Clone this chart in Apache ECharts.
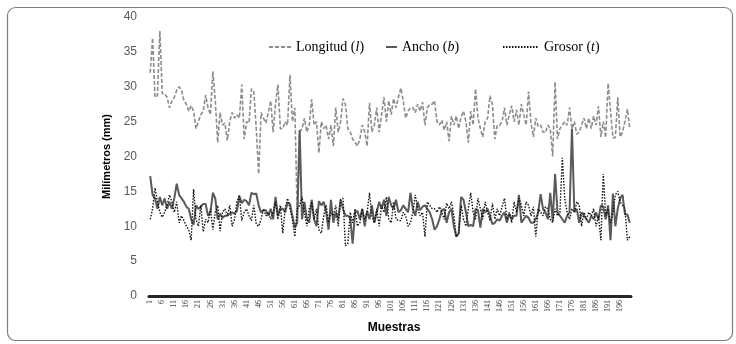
<!DOCTYPE html>
<html>
<head>
<meta charset="utf-8">
<script src="https://cdn.jsdelivr.net/npm/echarts@6/dist/echarts.min.js"></script>
<style>html,body{margin:0;padding:0;background:#fff;}#c{width:736px;height:344px;}</style>
</head>
<body>
<div id="c"></div>
<script>
const categories = Array.from({length: 200}, (_, k) => String(k + 1));
const yTicks = [0, 5, 10, 15, 20, 25, 30, 35, 40];
const longitud = [
32, 37, 28.5, 28.7, 38, 29, 29, 28.5, 27, 28,
28.5, 29.5, 30, 29.5, 28, 27.5, 26.5, 27.3, 26.5, 24,
25, 26, 26.5, 28.8, 27, 26, 32.2, 28, 22, 26.3,
24.5, 24.8, 22.3, 25, 26.3, 25.5, 26, 25.5, 30.3, 22.5,
25, 24.8, 29.7, 29.3, 24, 17.5, 26.3, 25.5, 24.8, 26.3,
28, 23.5, 27.5, 30.3, 24, 24, 25, 24.5, 31.7, 25,
27, 12, 23.5, 24, 25.5, 23.5, 24.5, 28.2, 24.5, 25,
20.5, 25, 24, 24.5, 22.5, 24.5, 21.5, 27, 23.5, 25,
28.3, 27.5, 24, 23.5, 22.5, 22, 21.5, 22.5, 24.5, 23.5,
21.5, 27.7, 23.5, 24.5, 27, 23.5, 26, 28.5, 25, 28,
26, 28.3, 27, 28.5, 29.8, 28, 25.5, 26.5, 27, 27,
26.3, 27.5, 26.5, 27.8, 24.5, 27, 27.5, 27.5, 28, 25,
24.5, 25.2, 23.8, 25, 22.2, 25.8, 24.5, 25.8, 24, 25.7,
26.5, 25, 22, 26.5, 24.5, 29.7, 25.5, 24, 22.8, 25,
25.5, 28.7, 27.5, 22.5, 24.5, 24.5, 25, 27, 24.5, 26,
27.3, 25, 26.7, 24.5, 27.5, 26, 24.5, 29.3, 24.8, 22.8,
25.5, 24.3, 24.5, 23.5, 23.4, 24.5, 24, 20, 30.7, 22.5,
24, 24.5, 25, 24.5, 27, 24, 25, 23.2, 23.5, 24.5,
25.5, 24, 25.5, 24, 25.8, 24.5, 27.2, 22.8, 25, 22.7,
30.5, 26.5, 22.7, 22.7, 28.5, 22.8, 23.5, 25, 26.8, 24
];
const ancho = [
17.2, 14.5, 14, 12.5, 14.2, 13, 14, 12.5, 13.5, 12.5,
14, 16.1, 14.5, 14, 13.5, 12.8, 12.5, 11, 10.2, 13,
12.5, 12.8, 13.2, 13.2, 11.5, 12, 14.8, 14, 11, 11.8,
11.2, 11.5, 11.5, 11.8, 12, 11.8, 12.2, 14.3, 13.3, 13.8,
13.6, 13, 14.8, 14.6, 14.7, 13, 12, 12.3, 12.3, 11.5,
12.5, 11, 14.2, 11.5, 12.5, 12.5, 12, 13.4, 13.2, 11.5,
9.8, 10.5, 23.8, 11, 13.5, 11, 10.5, 13.8, 11, 10,
13.6, 13, 13.5, 12, 9.5, 13.8, 10.5, 12, 11, 13.8,
12.5, 11.5, 11.5, 11.2, 7.5, 12, 12.2, 11, 12.5, 10,
12.2, 11, 13, 10.5, 12, 13.5, 12.5, 13.8, 11.5, 14.2,
13, 12.5, 13.8, 12, 12.3, 13, 12.5, 12, 14.8, 12.5,
11.5, 13.5, 12.3, 12.8, 13, 12.5, 12, 11, 9.5, 10,
11, 12.3, 12.5, 10.5, 12, 12.5, 10, 8.5, 9, 14.2,
13.8, 12, 10, 10.2, 10, 12.5, 12.3, 9.8, 12.5, 12,
12.5, 11.5, 10.3, 10.5, 11, 10.8, 11.5, 12, 10.5, 11.8,
11, 11.5, 11.5, 14.5, 10.5, 11, 11.5, 11.2, 10.5, 10.5,
11, 12, 14.6, 12.5, 12, 11, 14.8, 10.8, 17.5, 12,
11.5, 11, 10.5, 11.5, 12, 24, 12, 12.5, 10.5, 12,
11.5, 11, 10.5, 11.5, 11, 12, 11, 13, 12.8, 11,
13, 8, 14.7, 10, 12.5, 14, 14.5, 11.7, 11.7, 10.5
];
const grosor = [
11, 12.5, 15.5, 13.5, 12, 11.3, 12, 13, 14.5, 13.5,
12, 13.5, 10.5, 11.5, 10.8, 10, 9.5, 8, 15.3, 11,
10, 13, 9.2, 11, 10.5, 12.5, 9.5, 12, 13, 9.3,
12, 12.5, 11.5, 13, 10, 11, 13.5, 14.5, 10.8, 12,
12.5, 11.5, 10.8, 13, 10.3, 10, 11, 12.5, 11.5, 12,
11, 12, 13.5, 11, 13, 9, 12.5, 14, 12.5, 11,
8.5, 12.5, 13, 14.2, 12, 10, 12.5, 13.5, 11, 12.5,
9.5, 9, 11.5, 13, 10.5, 12, 11.5, 13, 10, 13.8,
14, 7.2, 7.5, 12, 10.5, 12.5, 10, 10.5, 12.5, 11,
12, 14.8, 11.5, 10.5, 12.5, 10, 13, 12, 14.2, 11,
10.5, 13.5, 11, 10.8, 10.8, 12, 11.5, 10, 10.5, 12,
14.5, 12.5, 11.5, 12, 8.5, 13.5, 13, 12.5, 12.5, 12,
12.8, 12, 11, 13.3, 12.5, 13.5, 11.5, 8.5, 9, 13,
11, 10, 12.5, 14.8, 12, 11, 14, 12.5, 11, 13.5,
12, 10.8, 13.3, 11, 12.5, 11.5, 12.8, 14, 11, 12,
10.5, 13.5, 12, 14, 13, 11.5, 13.5, 13, 11.5, 12.8,
8.5, 12.5, 12, 11.5, 12.8, 12.5, 11, 10.5, 12.5, 11.5,
12, 19.8, 14, 12, 11, 12.5, 12, 13.5, 13, 10,
12, 11, 12, 11.5, 12.5, 10, 11.5, 8, 17.5, 11.5,
12.5, 10.5, 12, 14.5, 15, 13.5, 13, 12.5, 8, 8.5
];

const serif = '"Liberation Serif", "DejaVu Serif", serif';
const sans = '"Liberation Sans", "Noto Sans", sans-serif';
const legendText = {
  color: '#000', fontFamily: serif, fontSize: 14,
  rich: { i: { fontStyle: 'italic', fontFamily: serif, fontSize: 14, color: '#000' } }
};
const legendBase = { top: 35, itemHeight: 12, textStyle: legendText,
  itemStyle: { opacity: 0 }, lineStyle: { inactiveWidth: 0 } };
const chart = echarts.init(document.getElementById('c'), null, {renderer: 'canvas'});
chart.setOption({
  animation: false,
  backgroundColor: '#fff',
  graphic: [{
    type: 'rect', left: 5, top: 5, silent: true,
    shape: { width: 725, height: 333, r: 8 },
    style: { fill: 'none', stroke: '#7f7f7f', lineWidth: 1.2 }
  }],
  legend: [
    Object.assign({ data: ['Longitud'], left: 263, itemWidth: 22,
      formatter: () => 'Longitud ({i|l})' }, legendBase),
    Object.assign({ data: ['Ancho'], left: 380, itemWidth: 11,
      formatter: () => 'Ancho ({i|b})' }, legendBase),
    Object.assign({ data: ['Grosor'], left: 497, itemWidth: 36,
      formatter: () => 'Grosor ({i|t})' }, legendBase)
  ],
  grid: { left: 149, right: 105, top: 17, bottom: 48, containLabel: false },
  xAxis: {
    type: 'category', data: categories, boundaryGap: true,
    name: 'Muestras', nameLocation: 'middle', nameGap: 26,
    nameTextStyle: { fontFamily: sans, fontWeight: 'bold', fontSize: 12, color: '#000', padding: [0, 0, 0, 8] },
    axisLine: { lineStyle: { color: '#262626', width: 3 } },
    axisTick: { show: false },
    axisLabel: { interval: 4, rotate: 90, fontSize: 8, fontFamily: serif, color: '#404040', margin: 4 }
  },
  yAxis: {
    type: 'value', min: 0, max: 40, interval: 5,
    name: 'Milímetros (mm)', nameLocation: 'middle', nameGap: 25,
    nameTextStyle: { fontFamily: sans, fontWeight: 'bold', fontSize: 11, color: '#000' },
    axisLine: { show: false }, axisTick: { show: false }, splitLine: { show: false },
    axisLabel: { fontFamily: sans, fontSize: 12, color: '#595959', margin: 12,
      formatter: v => yTicks.includes(v) ? String(v) : '' }
  },
  series: [
    { name: 'Longitud', type: 'line', data: longitud, symbol: 'none', showSymbol: false,
      lineStyle: { color: '#8c8c8c', width: 1.6, type: [4, 2] }, itemStyle: { color: '#8c8c8c' } },
    { name: 'Ancho', type: 'line', data: ancho, symbol: 'none', showSymbol: false,
      lineStyle: { color: '#5a5a5a', width: 2 }, itemStyle: { color: '#5a5a5a' } },
    { name: 'Grosor', type: 'line', data: grosor, symbol: 'none', showSymbol: false,
      lineStyle: { color: '#111', width: 1.4, type: [1.5, 1.5] }, itemStyle: { color: '#111' } }
  ]
});
</script>
</body>
</html>
